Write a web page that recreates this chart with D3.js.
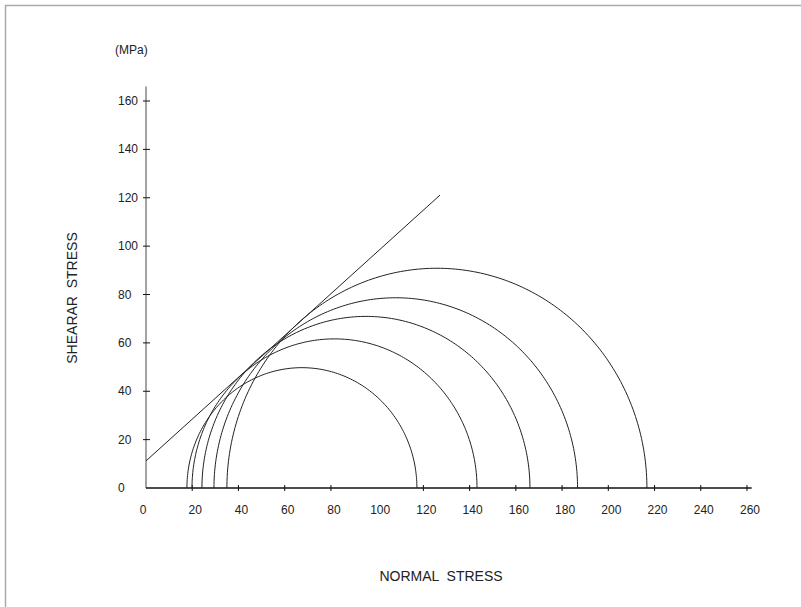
<!DOCTYPE html>
<html>
<head>
<meta charset="utf-8">
<script src="https://cdn.jsdelivr.net/npm/d3@7"></script>
<style>
  html, body { margin: 0; padding: 0; background: #fff; }
  svg { display: block; }
  text { font-family: "Liberation Sans", Arial, sans-serif; fill: #222; }
</style>
</head>
<body>
<div id="chart"></div>
<script>
// Mohr circles: minor and major principal stresses (MPa) for each test
const sigma3 = [17.7, 19.9, 24.2, 29.4, 35.0];
const sigma1 = [117.2, 143.2, 166.1, 186.7, 216.7];

// Failure envelope end points (normal stress, shear stress)
const envelopeSigma = [0, 127.2];
const envelopeTau = [11.2, 121.1];

// Axis ticks and labels
const xTickLabels = [0, 20, 40, 60, 80, 100, 120, 140, 160, 180, 200, 220, 240, 260];
const xTickMarks = [20, 40, 60, 80, 120, 140, 160, 180, 200, 220, 240, 260];
const yTickLabels = [0, 20, 40, 60, 80, 100, 120, 140, 160];
const yTickMarks = [20, 40, 60, 80, 100, 120, 140, 160];

const W = 801, H = 607;
const svg = d3.select("#chart").append("svg")
  .attr("width", W).attr("height", H);

// frame lines along the top and left edges
svg.append("line").attr("x1", 5).attr("y1", 5.5).attr("x2", W).attr("y2", 5.5)
  .attr("stroke", "#aaa").attr("stroke-width", 1.5);
svg.append("line").attr("x1", 5.5).attr("y1", 5).attr("x2", 5.5).attr("y2", H)
  .attr("stroke", "#aaa").attr("stroke-width", 1.5);

const x = d3.scaleLinear().domain([0, 260]).range([146, 747]);
const y = d3.scaleLinear().domain([0, 160]).range([488, 101]);

// y axis line
svg.append("line")
  .attr("x1", x(0)).attr("x2", x(0))
  .attr("y1", y(0)).attr("y2", y(166))
  .attr("stroke", "#666").attr("stroke-width", 1.2);

// x axis line
svg.append("line")
  .attr("x1", x(0)).attr("x2", x(262))
  .attr("y1", y(0)).attr("y2", y(0))
  .attr("stroke", "#111").attr("stroke-width", 1.4);

// x tick marks crossing the axis
svg.append("g").selectAll("line").data(xTickMarks).join("line")
  .attr("x1", d => x(d)).attr("x2", d => x(d))
  .attr("y1", y(0) - 3).attr("y2", y(0) + 3)
  .attr("stroke", "#111").attr("stroke-width", 1);

// y tick marks crossing the axis
svg.append("g").selectAll("line").data(yTickMarks).join("line")
  .attr("x1", x(0) - 3).attr("x2", x(0) + 4)
  .attr("y1", d => y(d)).attr("y2", d => y(d))
  .attr("stroke", "#111").attr("stroke-width", 1);

// x tick labels
svg.append("g").selectAll("text").data(xTickLabels).join("text")
  .attr("x", d => x(d) + (d === 0 ? -3 : 3))
  .attr("y", y(0) + 26)
  .attr("text-anchor", "middle")
  .attr("font-size", 12)
  .text(d => d);

// y tick labels
svg.append("g").selectAll("text").data(yTickLabels).join("text")
  .attr("x", 118)
  .attr("y", d => y(d) + 4)
  .attr("text-anchor", "start")
  .attr("font-size", 12)
  .text(d => d);

// unit label
svg.append("text").attr("x", 115).attr("y", 54)
  .attr("font-size", 12).text("(MPa)");

// axis titles
svg.append("text")
  .attr("transform", "translate(77,298) rotate(-90)")
  .attr("text-anchor", "middle")
  .attr("font-size", 14)
  .style("white-space", "pre")
  .text("SHEARAR  STRESS");

svg.append("text")
  .attr("x", 441).attr("y", 581)
  .attr("text-anchor", "middle")
  .attr("font-size", 14)
  .style("white-space", "pre")
  .text("NORMAL  STRESS");

// Mohr circles (upper halves) in data space
const arc = d3.line().x(p => x(p[0])).y(p => y(p[1]));
const circles = sigma3.map((s3, i) => {
  const c = (s3 + sigma1[i]) / 2, r = (sigma1[i] - s3) / 2;
  return d3.range(0, 181).map(a => {
    const t = a * Math.PI / 180;
    return [c + r * Math.cos(t), r * Math.sin(t)];
  });
});
svg.append("g").selectAll("path").data(circles).join("path")
  .attr("d", arc)
  .attr("fill", "none")
  .attr("stroke", "#222")
  .attr("stroke-width", 1);

// failure envelope
svg.append("path")
  .attr("d", arc(envelopeSigma.map((s, i) => [s, envelopeTau[i]])))
  .attr("fill", "none")
  .attr("stroke", "#222")
  .attr("stroke-width", 1);
</script>
</body>
</html>
